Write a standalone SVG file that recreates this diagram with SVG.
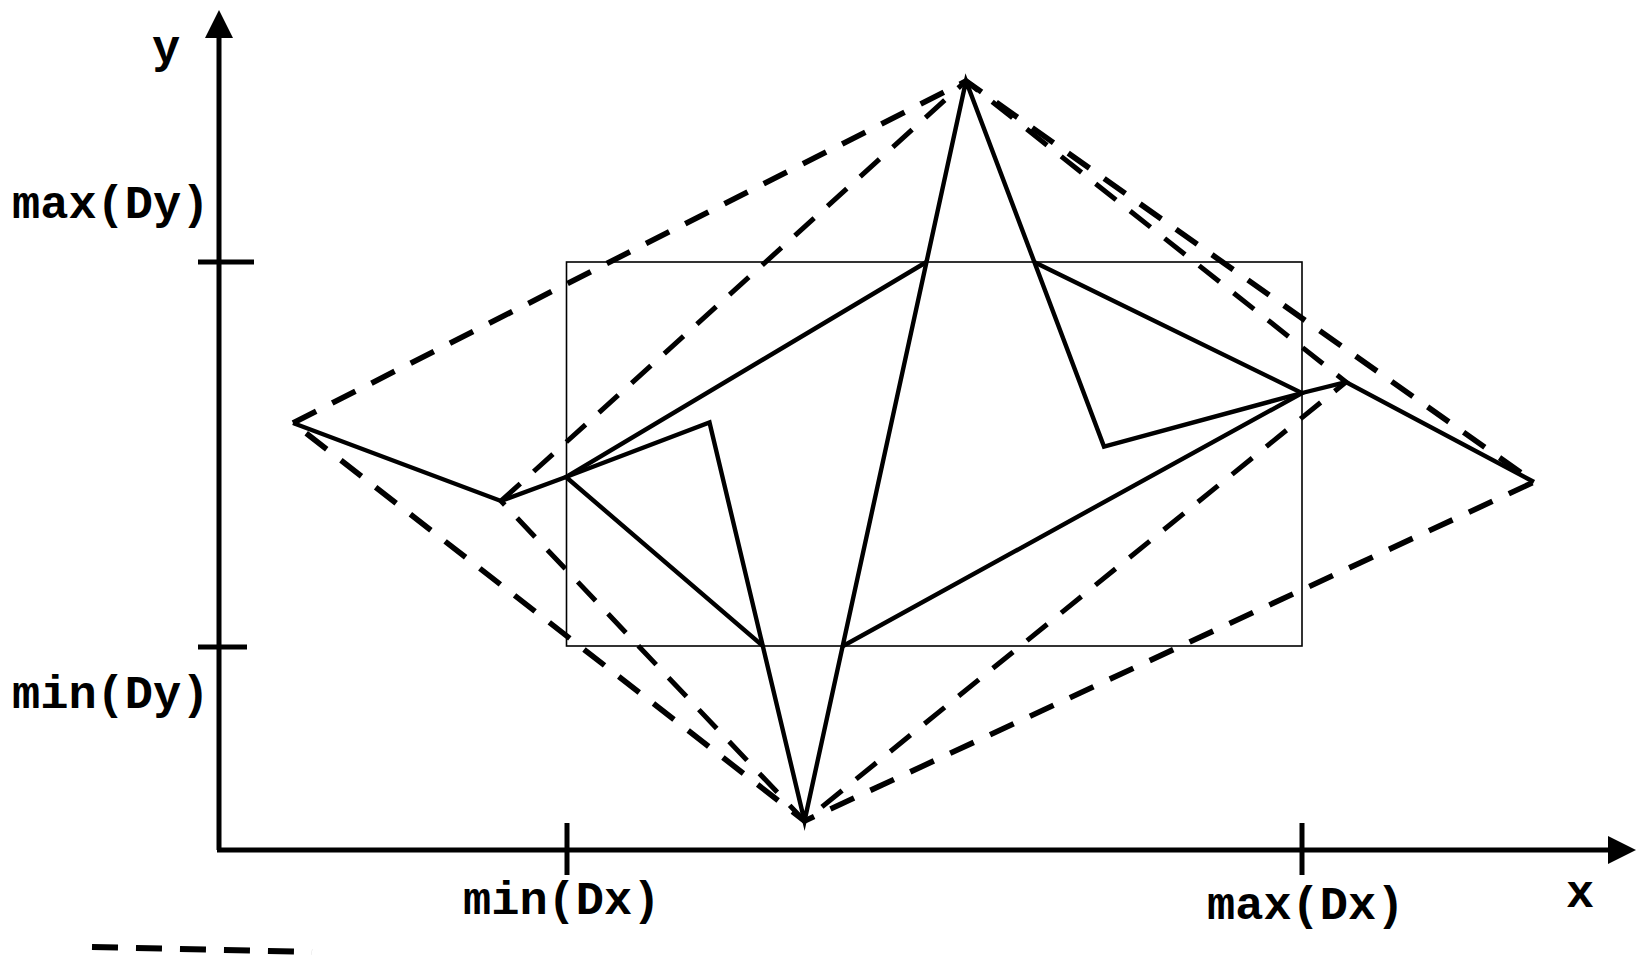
<svg xmlns="http://www.w3.org/2000/svg" width="1636" height="958" viewBox="0 0 1636 958">
<style>
.axis{stroke:#000;stroke-width:5;fill:none}
.tick{stroke:#000;stroke-width:5;fill:none}
.box{stroke:#000;stroke-width:1.6;fill:none}
.solid{stroke:#000;stroke-width:4.4;fill:none;stroke-linejoin:miter;stroke-miterlimit:20}
.dash{stroke:#000;stroke-width:5;fill:none;stroke-dasharray:26 18}
.dash-outer{stroke-width:5.6}
.lbl{font-family:"Liberation Mono","Courier New",monospace;font-weight:bold;font-size:47px;fill:#000}
</style>
<rect width="1636" height="958" fill="#fff"/>
<g id="axes">
<line class="axis" x1="219" y1="36" x2="219" y2="850"/>
<line class="axis" x1="217" y1="850" x2="1610" y2="850"/>
<polygon points="219,10 205,38 233,38" fill="#000"/>
<polygon points="1636,850 1608,836 1608,864" fill="#000"/>
</g>
<g id="ticks">
<line class="tick" x1="198" y1="262" x2="254" y2="262"/>
<line class="tick" x1="198" y1="647" x2="247" y2="647"/>
<line class="tick" x1="567" y1="823" x2="567" y2="875"/>
<line class="tick" x1="1302" y1="823" x2="1302" y2="875"/>
</g>
<g id="labels">
<text class="lbl" x="152" y="62">y</text>
<text class="lbl" x="12" y="218">max(Dy)</text>
<text class="lbl" x="12" y="708">min(Dy)</text>
<text class="lbl" x="463" y="914">min(Dx)</text>
<text class="lbl" x="1207" y="919">max(Dx)</text>
<text class="lbl" x="1566" y="907">x</text>
</g>
<g id="bounding-box">
<rect class="box" x="566.5" y="262" width="735.5" height="384"/>
</g>
<g id="outer-hull">
<polygon class="dash dash-outer" points="293,423 966,81 1534,482 804.5,821"/>
</g>
<g id="inner-hull">
<polygon class="dash" points="501,501 966,81 1346,382 804.5,821"/>
</g>
<g id="connectors">
<polyline class="solid" points="293,423 501,501 566,477 709.5,422.5 804.5,821 966,81 1104,446.5 1302,393 1346,382 1534,482"/>
<polyline class="solid" points="926.5,262 566,477 763,646"/>
<polyline class="solid" points="1034,262 1302,393 843,646"/>
</g>
<g id="legend">
<line class="dash" x1="92" y1="947" x2="312" y2="952" style="stroke-width:6"/>
</g>
</svg>
